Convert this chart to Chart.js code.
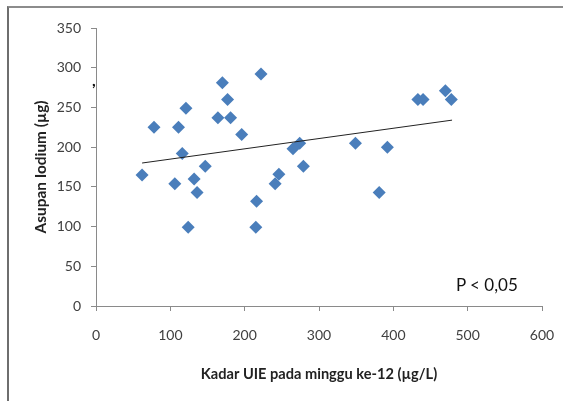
<!DOCTYPE html>
<html>
<head>
<meta charset="utf-8">
<script src="https://cdn.jsdelivr.net/npm/chart.js@4"></script>
<style>
  body { margin: 0; background: #fff; }
  #wrap { position: relative; width: 563px; height: 401px; }
  #frame { position: absolute; left: 7px; top: 6px; right: 0; bottom: 0;
    border-top: 2px solid #8c8c8c; border-left: 2px solid #6e6e6e; }
  .note { position: absolute; font-family: Lato, sans-serif; color: #111; white-space: nowrap; }
</style>
</head>
<body>
<div id="wrap">
  <canvas id="scatterChart" width="563" height="401"></canvas>
  <div id="frame"></div>
  <div class="note" style="left:92px; top:70px; font-size:16px; font-weight:bold;">,</div>
  <div class="note" style="left:456px; top:274px; font-size:17px;">P &lt; 0,05</div>
</div>
<script>
// Kadar UIE minggu ke-12 (ug/L) vs asupan iodium (ug)
const uieValues = [62, 78, 106, 111, 116, 121, 124, 132, 136, 147, 164, 170, 177, 181, 196,
  215, 216, 222, 241, 246, 265, 274, 279, 349, 381, 392, 433, 440, 470, 478];
const iodineValues = [165, 225, 154, 225, 192, 249, 99, 160, 143, 176, 237, 281, 260, 237, 216,
  99, 132, 292, 154, 166, 198, 205, 176, 205, 143, 200, 260, 260, 271, 260];
const trendX = [62, 479];
const trendY = [180, 234];
const xTicks = [0, 100, 200, 300, 400, 500, 600];
const yTicks = [0, 50, 100, 150, 200, 250, 300, 350];

const points = uieValues.map((x, i) => ({ x: x, y: iodineValues[i] }));
const trend = trendX.map((x, i) => ({ x: x, y: trendY[i] }));

const ctx = document.getElementById('scatterChart').getContext('2d');
const tickFont = { family: 'Lato, sans-serif', size: 14 };

new Chart(ctx, {
  type: 'scatter',
  data: {
    datasets: [{
      label: 'Asupan Iodium',
      data: points,
      pointStyle: 'rectRot',
      pointRadius: 6.5,
      backgroundColor: '#4a7ebb',
      borderColor: '#4a7ebb',
      borderWidth: 0,
      order: 2
    }, {
      type: 'line',
      label: 'Trend',
      data: trend,
      borderColor: '#222',
      borderWidth: 1,
      pointRadius: 0,
      fill: false,
      order: 1
    }]
  },
  options: {
    responsive: false,
    animation: false,
    layout: { padding: { left: 28, top: 28, right: 21, bottom: 14 } },
    plugins: { legend: { display: false }, tooltip: { enabled: false } },
    scales: {
      x: {
        type: 'linear',
        min: 0, max: 600,
        afterBuildTicks: s => { s.ticks = xTicks.map(v => ({ value: v })); },
        afterFit: s => { s.height = 81; s.paddingLeft = 0; s.paddingRight = 0; },
        grid: { drawOnChartArea: false, drawTicks: true, tickLength: 5, color: '#8a8a8a' },
        border: { color: '#8a8a8a', width: 1 },
        ticks: { font: tickFont, color: '#404040', padding: 16, maxRotation: 0 },
        title: {
          display: true,
          text: 'Kadar UIE pada minggu ke-12 (µg/L)',
          font: { family: 'Lato, sans-serif', size: 14.6, weight: 'bold' },
          color: '#222',
          padding: { top: 0, bottom: 4 }
        }
      },
      y: {
        min: 0, max: 350,
        afterBuildTicks: s => { s.ticks = yTicks.map(v => ({ value: v })); },
        afterFit: s => { s.width = 68; },
        grid: { drawOnChartArea: false, drawTicks: true, tickLength: 5, color: '#8a8a8a' },
        border: { color: '#8a8a8a', width: 1 },
        ticks: { font: tickFont, color: '#404040', padding: 10 },
        title: {
          display: true,
          text: 'Asupan Iodium (µg)',
          font: { family: 'Lato, sans-serif', size: 15.4, weight: 'bold' },
          color: '#222',
          padding: { top: 4, bottom: 0 }
        }
      }
    }
  }
});
</script>
</body>
</html>
